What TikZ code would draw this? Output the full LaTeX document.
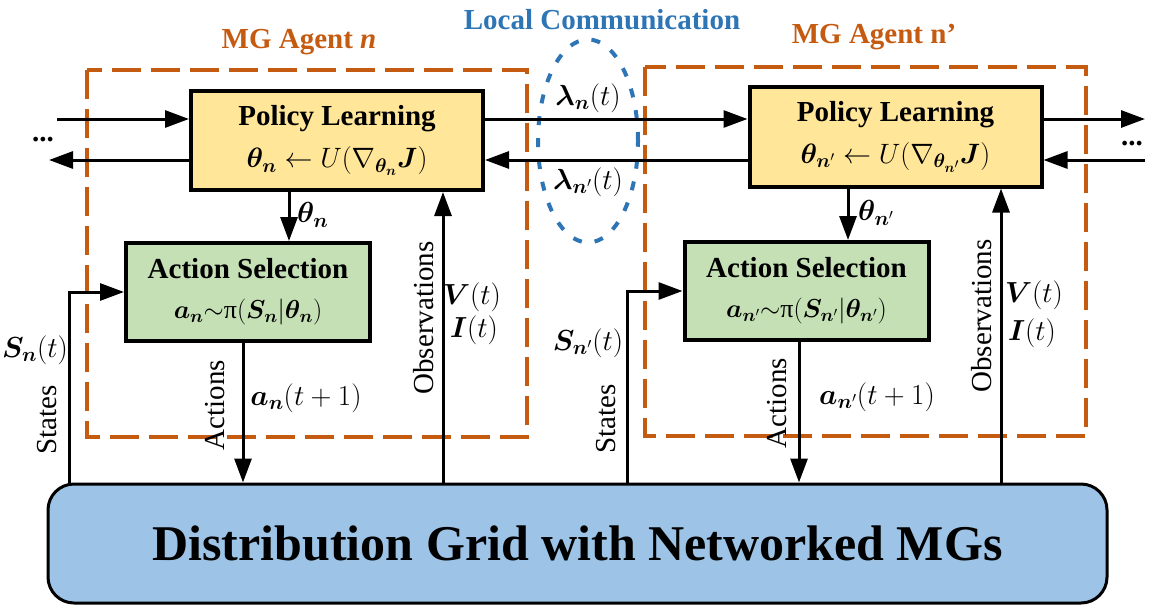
\RequirePackage{fix-cm}
\documentclass[tikz,border=0pt]{standalone}
\usepackage{amsmath}
\usepackage{bm}
\usepackage{fontspec}
\setmainfont{Liberation Serif}
\usetikzlibrary{arrows.meta,shapes.geometric,calc}
\definecolor{plfill}{HTML}{FFE699}
\definecolor{asfill}{HTML}{C5E0B4}
\definecolor{gridfill}{HTML}{9DC3E6}
\definecolor{agentc}{HTML}{C55A11}
\definecolor{commc}{HTML}{2E75B6}
\tikzset{
  plbox/.style={draw, line width=4pt, fill=plfill, minimum width=292, minimum height=99, align=center, inner sep=0pt,
    font=\fontsize{29}{42}\selectfont\bfseries},
  asbox/.style={draw, line width=4pt, fill=asfill, minimum width=244, minimum height=98, align=center, inner sep=0pt,
    font=\fontsize{29}{40}\selectfont\bfseries},
  gridbox/.style={draw, line width=3pt, fill=gridfill, rounded corners=26pt, minimum width=1059, minimum height=119,
    inner sep=0pt, font=\fontsize{50}{56}\selectfont\bfseries},
  agentbox/.style={draw=agentc, line width=3.3pt, dash pattern=on 29pt off 10pt},
  commell/.style={ellipse, draw=commc, line width=4pt, dash pattern=on 9pt off 13pt, minimum width=100, minimum height=203, inner sep=0pt},
  arr/.style={line width=3pt, -{Triangle[length=24pt,width=17pt]}},
  mlbl/.style={inner sep=0pt, font=\fontsize{29}{32}\selectfont},
  rlbl/.style={inner sep=0pt, rotate=90, font=\fontsize{29}{33}\selectfont},
  title/.style={inner sep=0pt, font=\fontsize{29}{33}\selectfont\bfseries},
}
\newcommand{\bn}{\bm{n}}
\begin{document}
\begin{tikzpicture}[x=1pt,y=-1pt]
\useasboundingbox (0,0) rectangle (1155,615);
% titles
\node[title, text=agentc] (tA) at (299,42) {MG Agent \textit{n}};
\node[title, text=agentc] (tB) at (874,37) {MG Agent n’};
\node[title, text=commc] (tC) at (602,20) {Local Communication};
% agent boxes
\draw[agentbox] (87,70) rectangle (527,437);
\draw[agentbox] (645,67) rectangle (1086,436);
% communication ellipse
\node[commell] (comm) at (588,141) {};
% main nodes
\node[plbox] (PLL) at (337,140.5) {Policy Learning\\{\fontsize{28}{32}\selectfont$\bm{\theta}_{\bn}\leftarrow U(\nabla_{\bm{\theta}_{\bn}}\bm{J})$}};
\node[plbox] (PLR) at (895.5,137) {Policy Learning\\{\fontsize{28}{32}\selectfont$\bm{\theta}_{\bn'}\leftarrow U(\nabla_{\bm{\theta}_{\bn'}}\bm{J})$}};
\node[asbox] (ASL) at (248,292) {Action Selection\\{\fontsize{26}{30}\selectfont$\bm{a}_{\bn}{\sim}\text{\mdseries π}(\bm{S}_{\bn}|\bm{\theta}_{\bn})$}};
\node[asbox] (ASR) at (806.5,291) {Action Selection\\{\fontsize{26}{30}\selectfont$\bm{a}_{\bn'}{\sim}\text{\mdseries π}(\bm{S}_{\bn'}|\bm{\theta}_{\bn'})$}};
\node[gridbox] (Grid) at (577.5,543.5) {Distribution Grid with Networked MGs};
% helper coordinates
\coordinate (yU) at (0,119);
\coordinate (yD) at (0,160);
\coordinate (Lin) at (57,119);
\coordinate (Lout) at (49,160);
\coordinate (Rout) at (1145,119);
\coordinate (Rin) at (1145,160);
\coordinate (xT) at (289,0);
\coordinate (xO) at (443,0);
\coordinate (xA) at (243,0);
\coordinate (xS) at (69,0);
\coordinate (xT2) at (848,0);
\coordinate (xO2) at (1001,0);
\coordinate (xA2) at (799,0);
\coordinate (xS2) at (627,0);
% horizontal connectors
\draw[arr] (Lin) -- (Lin -| PLL.west);
\draw[arr] (PLL.west |- Lout) -- (Lout);
\draw[arr] (PLL.east |- yU) -- (PLR.west |- yU);
\draw[arr] (PLR.west |- yD) -- (PLL.east |- yD);
\draw[arr] (PLR.east |- Rout) -- (Rout);
\draw[arr] (Rin) -- (Rin -| PLR.east);
% left agent
\draw[arr] (PLL.south -| xT) -- (ASL.north -| xT);
\draw[arr] (Grid.north -| xO) -- (PLL.south -| xO);
\draw[arr] (ASL.south -| xA) -- (Grid.north -| xA);
\draw[arr] (Grid.north -| xS) |- (ASL.west);
% right agent
\draw[arr] (PLR.south -| xT2) -- (ASR.north -| xT2);
\draw[arr] (Grid.north -| xO2) -- (PLR.south -| xO2);
\draw[arr] (ASR.south -| xA2) -- (Grid.north -| xA2);
\draw[arr] (Grid.north -| xS2) |- (ASR.west);
% labels
\node[title] (dL) at (43,140) {...};
\node[title] (dR) at (1132,144) {...};
\node[mlbl] (lamA) at (588,98) {$\bm{\lambda}_{\bn}(t)$};
\node[mlbl] (lamB) at (588,182) {$\bm{\lambda}_{\bn'}(t)$};
\node[mlbl, anchor=west] (thA) at (297,215) {$\bm{\theta}_{\bn}$};
\node[mlbl, anchor=west] (thB) at (858,213) {$\bm{\theta}_{\bn'}$};
\node[mlbl] (vA) at (472,297) {$\bm{V}(t)$};
\node[mlbl] (iA) at (474,330) {$\bm{I}(t)$};
\node[mlbl] (vB) at (1034,295) {$\bm{V}(t)$};
\node[mlbl] (iB) at (1032,333) {$\bm{I}(t)$};
\node[mlbl] (aA) at (306,398) {$\bm{a}_{\bn}(t+1)$};
\node[mlbl] (aB) at (877,397) {$\bm{a}_{\bn'}(t+1)$};
\node[mlbl] (sA) at (35,350) {$\bm{S}_{\bn}(t)$};
\node[mlbl] (sB) at (588,343) {$\bm{S}_{\bn'}(t)$};
\node[rlbl] (oA) at (424,318) {Observations};
\node[rlbl] (oB) at (982,316) {Observations};
\node[rlbl] (acA) at (215,405) {Actions};
\node[rlbl] (acB) at (777,403) {Actions};
\node[rlbl] (stA) at (47,420) {States};
\node[rlbl] (stB) at (606,419) {States};
\end{tikzpicture}
\end{document}
